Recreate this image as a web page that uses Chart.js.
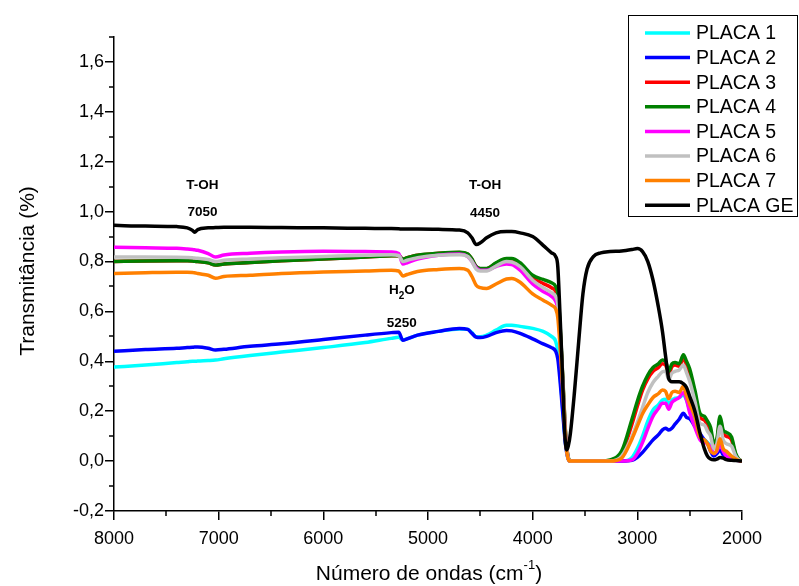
<!DOCTYPE html>
<html>
<head>
<meta charset="utf-8">
<script src="https://cdn.jsdelivr.net/npm/chart.js@4.4.1/dist/chart.umd.min.js"></script>
<style>
    body { margin: 0; background: #fff; }
    canvas { display: block; }
</style>
</head>
<body>
<canvas id="chart" width="799" height="586"></canvas>
<script>
// Wavenumbers (cm-1) shared by all spectra
const wavenumbers = [8000, 7700, 7400, 7300, 7250, 7230, 7200, 7100, 7030, 6950, 6700, 6400, 6000, 5600, 5350, 5280, 5240, 5200, 5100, 4900,
    4700, 4620, 4580, 4540, 4500, 4440, 4350, 4250, 4200, 4120, 4000, 3900, 3820, 3780, 3760, 3740, 3720, 3700, 3690, 3675,
    3660, 3640, 3600, 3560, 3520, 3480, 3420, 3350, 3260, 3150, 3050, 3000, 2950, 2900, 2850, 2800, 2760, 2730, 2700, 2670,
    2640, 2600, 2560, 2530, 2500, 2450, 2400, 2360, 2330, 2300, 2270, 2240, 2210, 2180, 2150, 2100, 2060, 2030, 2000];

const placa1 = [0.377, 0.385, 0.395, 0.398, 0.400, 0.400, 0.401, 0.403, 0.405, 0.410, 0.423, 0.437, 0.455, 0.475, 0.492, 0.496, 0.486, 0.490, 0.505, 0.520,
    0.530, 0.528, 0.515, 0.498, 0.498, 0.505, 0.525, 0.545, 0.545, 0.540, 0.532, 0.520, 0.500, 0.480, 0.440, 0.350, 0.250, 0.140, 0.090, 0.040,
    0.010, 0.000, 0.000, 0.000, 0.000, 0.000, 0.000, 0.000, 0.000, 0.000, 0.015, 0.050, 0.100, 0.160, 0.205, 0.225, 0.245, 0.248, 0.228, 0.245,
    0.252, 0.255, 0.265, 0.245, 0.205, 0.145, 0.095, 0.085, 0.075, 0.060, 0.030, 0.040, 0.070, 0.040, 0.020, 0.015, 0.008, 0.003, 0.000];

const placa2 = [0.440, 0.447, 0.452, 0.455, 0.456, 0.457, 0.457, 0.452, 0.445, 0.448, 0.460, 0.470, 0.487, 0.505, 0.515, 0.517, 0.484, 0.490, 0.505, 0.520,
    0.532, 0.528, 0.512, 0.497, 0.495, 0.500, 0.515, 0.524, 0.522, 0.512, 0.490, 0.470, 0.455, 0.440, 0.410, 0.330, 0.230, 0.130, 0.080, 0.035,
    0.008, 0.000, 0.000, 0.000, 0.000, 0.000, 0.000, 0.000, 0.000, 0.000, 0.003, 0.015, 0.035, 0.060, 0.085, 0.105, 0.125, 0.132, 0.125, 0.132,
    0.148, 0.168, 0.192, 0.175, 0.170, 0.140, 0.110, 0.085, 0.070, 0.040, 0.020, 0.030, 0.045, 0.025, 0.015, 0.010, 0.005, 0.002, 0.000];

const placa3 = [0.800, 0.802, 0.803, 0.803, 0.802, 0.801, 0.800, 0.795, 0.786, 0.790, 0.796, 0.803, 0.810, 0.818, 0.823, 0.824, 0.810, 0.815, 0.825, 0.833,
    0.836, 0.829, 0.809, 0.779, 0.771, 0.771, 0.793, 0.810, 0.809, 0.790, 0.735, 0.712, 0.695, 0.680, 0.650, 0.545, 0.390, 0.225, 0.135, 0.058,
    0.014, 0.000, 0.000, 0.000, 0.000, 0.000, 0.000, 0.000, 0.000, 0.030, 0.150, 0.220, 0.285, 0.330, 0.360, 0.375, 0.390, 0.385, 0.348, 0.378,
    0.385, 0.380, 0.412, 0.385, 0.355, 0.270, 0.175, 0.165, 0.145, 0.120, 0.065, 0.080, 0.165, 0.110, 0.100, 0.085, 0.025, 0.006, 0.000];

const placa4 = [0.800, 0.802, 0.803, 0.803, 0.802, 0.801, 0.800, 0.795, 0.786, 0.790, 0.796, 0.803, 0.810, 0.818, 0.823, 0.824, 0.810, 0.815, 0.825, 0.833,
    0.837, 0.830, 0.810, 0.780, 0.772, 0.772, 0.795, 0.812, 0.812, 0.795, 0.745, 0.728, 0.715, 0.700, 0.670, 0.560, 0.400, 0.230, 0.140, 0.060,
    0.015, 0.000, 0.000, 0.000, 0.000, 0.000, 0.000, 0.000, 0.005, 0.040, 0.170, 0.240, 0.300, 0.345, 0.375, 0.390, 0.405, 0.400, 0.360, 0.390,
    0.395, 0.390, 0.426, 0.400, 0.370, 0.284, 0.190, 0.180, 0.160, 0.135, 0.075, 0.090, 0.180, 0.125, 0.115, 0.097, 0.030, 0.008, 0.000];

const placa5 = [0.857, 0.855, 0.853, 0.850, 0.848, 0.847, 0.845, 0.832, 0.818, 0.826, 0.833, 0.838, 0.841, 0.840, 0.838, 0.832, 0.790, 0.795, 0.810, 0.825,
    0.830, 0.820, 0.800, 0.775, 0.765, 0.765, 0.780, 0.790, 0.788, 0.765, 0.710, 0.680, 0.660, 0.640, 0.610, 0.500, 0.360, 0.200, 0.120, 0.050,
    0.010, 0.000, 0.000, 0.000, 0.000, 0.000, 0.000, 0.000, 0.000, 0.000, 0.005, 0.030, 0.075, 0.130, 0.180, 0.210, 0.232, 0.232, 0.208, 0.235,
    0.245, 0.255, 0.275, 0.245, 0.195, 0.135, 0.085, 0.075, 0.070, 0.055, 0.030, 0.040, 0.065, 0.040, 0.020, 0.012, 0.006, 0.002, 0.000];

const placa6 = [0.818, 0.818, 0.817, 0.816, 0.815, 0.814, 0.813, 0.808, 0.800, 0.805, 0.810, 0.815, 0.820, 0.825, 0.827, 0.824, 0.800, 0.805, 0.815, 0.825,
    0.827, 0.820, 0.800, 0.770, 0.762, 0.762, 0.782, 0.800, 0.798, 0.780, 0.725, 0.695, 0.675, 0.660, 0.630, 0.520, 0.370, 0.210, 0.120, 0.050,
    0.010, 0.000, 0.000, 0.000, 0.000, 0.000, 0.000, 0.000, 0.000, 0.020, 0.100, 0.155, 0.215, 0.275, 0.315, 0.340, 0.358, 0.360, 0.328, 0.352,
    0.360, 0.365, 0.385, 0.355, 0.320, 0.240, 0.150, 0.145, 0.120, 0.100, 0.050, 0.070, 0.140, 0.085, 0.070, 0.060, 0.020, 0.005, 0.000];

const placa7 = [0.752, 0.755, 0.757, 0.757, 0.756, 0.755, 0.752, 0.745, 0.733, 0.740, 0.745, 0.752, 0.758, 0.762, 0.765, 0.762, 0.742, 0.748, 0.760, 0.768,
    0.772, 0.765, 0.740, 0.705, 0.695, 0.692, 0.710, 0.730, 0.732, 0.717, 0.670, 0.645, 0.625, 0.610, 0.575, 0.470, 0.340, 0.190, 0.110, 0.040,
    0.008, 0.000, 0.000, 0.000, 0.000, 0.000, 0.000, 0.000, 0.000, 0.012, 0.090, 0.140, 0.190, 0.225, 0.255, 0.270, 0.285, 0.280, 0.250, 0.275,
    0.280, 0.275, 0.300, 0.262, 0.228, 0.177, 0.095, 0.085, 0.070, 0.040, 0.030, 0.045, 0.090, 0.050, 0.040, 0.020, 0.008, 0.002, 0.000];

const placaGE = [0.945, 0.942, 0.940, 0.935, 0.925, 0.917, 0.928, 0.935, 0.936, 0.937, 0.937, 0.936, 0.935, 0.933, 0.932, 0.931, 0.930, 0.930, 0.930, 0.929,
    0.926, 0.915, 0.895, 0.868, 0.875, 0.895, 0.915, 0.920, 0.920, 0.915, 0.900, 0.865, 0.835, 0.820, 0.780, 0.600, 0.400, 0.170, 0.090, 0.045,
    0.060, 0.110, 0.280, 0.480, 0.670, 0.770, 0.820, 0.835, 0.840, 0.842, 0.848, 0.852, 0.840, 0.800, 0.725, 0.620, 0.520, 0.420, 0.330, 0.318,
    0.318, 0.318, 0.310, 0.295, 0.260, 0.200, 0.110, 0.050, 0.020, 0.008, 0.005, 0.008, 0.014, 0.012, 0.006, 0.003, 0.002, 0.001, 0.000];

const seriesNames = ['PLACA 1', 'PLACA 2', 'PLACA 3', 'PLACA 4', 'PLACA 5', 'PLACA 6', 'PLACA 7', 'PLACA GE'];
const seriesValues = [placa1, placa2, placa3, placa4, placa5, placa6, placa7, placaGE];
const seriesColors = ['#00FFFF', '#0000FF', '#FF0000', '#008000', '#FF00FF', '#C0C0C0', '#FF8000', '#000000'];

const xTickValues = [8000, 7000, 6000, 5000, 4000, 3000, 2000];
const yTickValues = [-0.2, 0.0, 0.2, 0.4, 0.6, 0.8, 1.0, 1.2, 1.4, 1.6];

// Band labels: text lines, anchored at a wavenumber / transmittance
const peakLabels = [
    { text: 'T-OH', wn: 7155, y: 1.105 },
    { text: '7050', wn: 7155, y: 0.997 },
    { text: 'T-OH', wn: 4455, y: 1.105 },
    { text: '4450', wn: 4455, y: 0.994 },
    { text: 'H|2|O', wn: 5250, y: 0.686 },
    { text: '5250', wn: 5250, y: 0.553 }
];

const FONT = '"Liberation Sans", Arial, sans-serif';

// Minor ticks, axis titles, band labels and the boxed legend
const extrasPlugin = {
    id: 'extras',
    afterDraw(chart) {
        const ctx = chart.ctx;
        const xs = chart.scales.x;
        const ys = chart.scales.y;
        const area = chart.chartArea;

        ctx.save();
        ctx.strokeStyle = '#000';
        ctx.lineWidth = 1.5;
        for (let v = 2500; v < 8000; v += 1000) {
            const px = Math.round(xs.getPixelForValue(v));
            ctx.beginPath();
            ctx.moveTo(px, area.bottom);
            ctx.lineTo(px, area.bottom + 5);
            ctx.stroke();
        }
        for (let v = -0.1; v < 1.7; v += 0.2) {
            const py = Math.round(ys.getPixelForValue(v));
            ctx.beginPath();
            ctx.moveTo(area.left, py);
            ctx.lineTo(area.left - 5, py);
            ctx.stroke();
        }

        // axis titles
        ctx.fillStyle = '#000';
        ctx.font = '21px ' + FONT;
        ctx.textAlign = 'center';
        ctx.textBaseline = 'middle';
        ctx.save();
        ctx.translate(28, 271);
        ctx.rotate(-Math.PI / 2);
        ctx.fillText('Transmitância (%)', 0, 0);
        ctx.restore();

        const main = 'Número de ondas (cm';
        const sup = '-1';
        const tail = ')';
        ctx.textAlign = 'left';
        const wMain = ctx.measureText(main).width;
        const wTail = ctx.measureText(tail).width;
        ctx.font = '13px ' + FONT;
        const wSup = ctx.measureText(sup).width;
        let tx = 429 - (wMain + wSup + wTail) / 2;
        const ty = 574;
        ctx.font = '21px ' + FONT;
        ctx.fillText(main, tx, ty);
        tx += wMain;
        ctx.font = '13px ' + FONT;
        ctx.fillText(sup, tx, ty - 9);
        tx += wSup;
        ctx.font = '21px ' + FONT;
        ctx.fillText(tail, tx, ty);

        // band labels
        peakLabels.forEach(lbl => {
            const px = xs.getPixelForValue(lbl.wn);
            const py = ys.getPixelForValue(lbl.y);
            const parts = lbl.text.split('|');
            ctx.font = 'bold 13.5px ' + FONT;
            if (parts.length === 1) {
                ctx.textAlign = 'center';
                ctx.fillText(lbl.text, px, py);
                return;
            }
            const wA = ctx.measureText(parts[0]).width;
            const wC = ctx.measureText(parts[2]).width;
            ctx.font = 'bold 10px ' + FONT;
            const wB = ctx.measureText(parts[1]).width;
            let x0 = px - (wA + wB + wC) / 2;
            ctx.textAlign = 'left';
            ctx.font = 'bold 13.5px ' + FONT;
            ctx.fillText(parts[0], x0, py);
            x0 += wA;
            ctx.font = 'bold 10px ' + FONT;
            ctx.fillText(parts[1], x0, py + 6);
            x0 += wB;
            ctx.font = 'bold 13.5px ' + FONT;
            ctx.fillText(parts[2], x0, py);
        });

        // legend box
        ctx.fillStyle = '#fff';
        ctx.fillRect(628.5, 15.5, 169, 201);
        ctx.strokeStyle = '#000';
        ctx.lineWidth = 1;
        ctx.strokeRect(628.5, 15.5, 169, 201);
        ctx.font = '19.5px ' + FONT;
        ctx.textAlign = 'left';
        ctx.textBaseline = 'middle';
        seriesNames.forEach((name, i) => {
            const y = 33 + i * 24.6;
            ctx.strokeStyle = seriesColors[i];
            ctx.lineWidth = 3.5;
            ctx.beginPath();
            ctx.moveTo(645, y);
            ctx.lineTo(690, y);
            ctx.stroke();
            ctx.fillStyle = '#000';
            ctx.fillText(name, 696, y + 1);
        });
        ctx.restore();
    }
};

const datasets = seriesNames.map((name, i) => ({
    label: name,
    data: wavenumbers.map((wn, j) => ({ x: wn, y: seriesValues[i][j] })),
    borderColor: seriesColors[i],
    backgroundColor: seriesColors[i],
    borderWidth: 3.5,
    pointRadius: 0,
    cubicInterpolationMode: 'monotone',
    order: seriesNames.length - i
}));

new Chart(document.getElementById('chart'), {
    type: 'line',
    data: { datasets: datasets },
    options: {
        responsive: false,
        animation: false,
        devicePixelRatio: 1,
        layout: { padding: { top: 37, right: 57, left: 0, bottom: 0 } },
        plugins: {
            legend: { display: false },
            tooltip: { enabled: false }
        },
        scales: {
            x: {
                type: 'linear',
                reverse: true,
                min: 2000,
                max: 8000,
                afterBuildTicks: scale => { scale.ticks = xTickValues.map(v => ({ value: v })); },
                afterFit: scale => { scale.height = 75; },
                grid: { drawOnChartArea: false, drawTicks: true, tickLength: 9, color: '#000', lineWidth: 1.5 },
                border: { display: true, color: '#000', width: 1.5 },
                ticks: {
                    color: '#000',
                    font: { family: FONT, size: 18 },
                    padding: 8,
                    maxRotation: 0,
                    callback: v => String(v)
                }
            },
            y: {
                min: -0.2,
                max: 1.7,
                afterBuildTicks: scale => { scale.ticks = yTickValues.map(v => ({ value: v })); },
                afterFit: scale => { scale.width = 114; },
                grid: { drawOnChartArea: false, drawTicks: true, tickLength: 9, color: '#000', lineWidth: 1.5 },
                border: { display: true, color: '#000', width: 1.5 },
                ticks: {
                    color: '#000',
                    font: { family: FONT, size: 18 },
                    padding: 1,
                    callback: v => v.toFixed(1).replace('.', ',')
                }
            }
        }
    },
    plugins: [extrasPlugin]
});
</script>
</body>
</html>
